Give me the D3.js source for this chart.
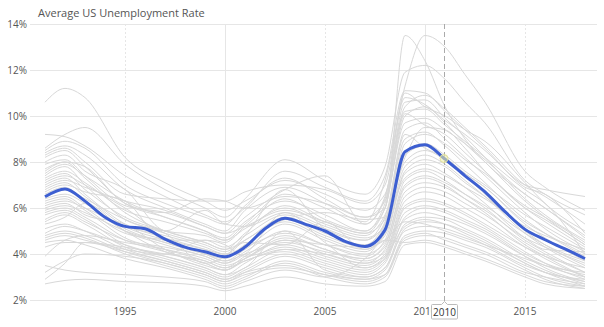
<!DOCTYPE html>
<html>
<head>
<meta charset="utf-8">
<script src="https://cdn.jsdelivr.net/npm/d3@7"></script>
<style>
  html, body { margin: 0; padding: 0; background: #fff; }
  svg { display: block; }
  text { font-family: "Open Sans", "Noto Sans", sans-serif; }
</style>
</head>
<body>
<svg id="chart" width="604" height="327"></svg>
<script>
// Sample years for the metro-area series
const metroYears = [1991, 1992, 1993, 1995, 1997, 1999, 2000, 2001, 2003, 2005,
                    2007, 2008, 2009, 2010, 2011, 2012, 2013, 2015, 2016, 2018];

// Unemployment rate (%) of each metro area at those years
const metroRates = [
  [10.6, 11.2, 10.8, 8.2, 7.1, 6.3, 5.9, 6.3, 7.2, 6.6, 5.9, 6.6, 10.4, 10.9, 10.3, 9.5, 8.7, 7.0, 6.5, 5.3],
  [9.2, 9.1, 8.7, 7.4, 6.5, 5.7, 5.4, 6.0, 7.6, 6.9, 6.3, 7.4, 11.1, 11.0, 10.2, 9.4, 8.6, 6.9, 6.6, 4.9],
  [8.6, 9.2, 9.5, 7.9, 6.8, 6.0, 5.6, 6.4, 8.1, 7.2, 6.6, 7.8, 11.9, 12.2, 11.6, 10.6, 9.7, 7.2, 6.6, 5.7],
  [8.5, 8.9, 8.6, 7.0, 6.2, 5.6, 5.3, 6.1, 7.3, 6.4, 5.6, 6.0, 13.5, 12.4, 10.4, 9.0, 8.0, 6.6, 6.0, 4.8],
  [8.4, 8.7, 8.3, 6.8, 6.0, 5.3, 5.0, 5.9, 6.9, 6.2, 5.4, 7.2, 11.3, 13.5, 13.0, 11.8, 10.6, 7.6, 6.9, 5.9],
  [8.3, 8.6, 8.0, 6.6, 6.4, 6.3, 6.3, 6.7, 7.0, 6.8, 6.2, 7.0, 10.8, 10.5, 9.8, 9.2, 8.5, 7.0, 6.8, 6.5],
  [8.2, 8.5, 7.8, 6.2, 5.6, 5.0, 4.6, 5.3, 6.6, 6.0, 5.3, 6.4, 11.0, 10.4, 10.0, 9.4, 8.9, 7.1, 6.2, 5.0],
  [8.0, 8.3, 7.6, 6.8, 5.0, 4.8, 4.5, 5.2, 6.4, 5.5, 5.0, 6.2, 10.6, 10.7, 9.9, 9.1, 8.2, 6.4, 5.7, 4.6],
  [7.9, 8.1, 7.4, 6.1, 5.8, 5.2, 4.9, 5.6, 6.8, 7.4, 5.3, 6.5, 10.2, 10.3, 9.6, 8.9, 8.2, 6.8, 6.2, 4.0],
  [7.7, 8.0, 7.3, 5.8, 5.0, 4.5, 4.2, 4.9, 6.1, 5.4, 4.9, 6.0, 10.0, 10.4, 9.7, 8.8, 8.0, 6.3, 5.6, 4.4],
  [7.6, 8.0, 7.8, 6.2, 5.8, 6.4, 6.3, 6.0, 6.5, 6.2, 5.6, 6.3, 9.7, 9.9, 9.4, 8.8, 8.1, 6.6, 6.0, 4.7],
  [7.5, 7.9, 7.4, 6.3, 5.6, 5.0, 4.7, 5.4, 6.3, 5.7, 5.0, 6.0, 10.1, 9.6, 9.2, 8.4, 7.6, 6.0, 5.4, 4.3],
  [7.4, 7.8, 7.0, 5.5, 4.9, 3.6, 3.9, 4.8, 6.8, 5.1, 4.6, 5.6, 9.4, 9.7, 9.0, 8.2, 7.4, 5.8, 5.1, 4.1],
  [7.3, 7.6, 7.1, 5.9, 5.4, 4.9, 4.6, 5.1, 6.0, 5.3, 4.8, 5.7, 8.2, 9.5, 9.4, 8.6, 7.6, 6.1, 5.6, 4.5],
  [7.2, 7.5, 6.8, 5.6, 5.0, 4.5, 4.2, 4.6, 5.6, 4.9, 4.4, 5.4, 9.0, 9.3, 8.7, 7.9, 7.1, 5.5, 4.9, 3.9],
  [7.1, 7.4, 7.0, 6.0, 5.0, 5.9, 5.3, 5.2, 5.8, 5.2, 4.7, 5.2, 8.8, 9.2, 8.8, 8.1, 7.5, 6.0, 5.5, 4.4],
  [7.0, 7.3, 6.6, 5.3, 4.7, 4.2, 3.9, 4.4, 5.5, 4.8, 4.3, 5.3, 9.2, 8.6, 8.2, 7.5, 6.9, 5.3, 4.7, 3.7],
  [6.9, 7.2, 6.9, 6.3, 5.9, 5.2, 4.9, 5.2, 5.9, 5.4, 4.9, 5.5, 8.4, 8.8, 8.3, 7.6, 7.0, 5.7, 5.2, 4.2],
  [6.8, 7.1, 6.5, 5.2, 4.6, 4.0, 3.7, 4.2, 5.3, 4.6, 4.1, 5.0, 8.3, 8.7, 8.2, 7.4, 6.6, 5.0, 4.4, 3.5],
  [6.7, 7.0, 6.7, 6.3, 4.6, 4.6, 4.3, 4.8, 5.7, 5.1, 4.6, 5.3, 8.0, 8.5, 8.1, 7.5, 6.9, 5.4, 4.9, 4.0],
  [6.6, 6.9, 6.3, 5.1, 4.5, 4.0, 3.8, 4.4, 5.4, 4.7, 4.2, 4.9, 7.8, 8.3, 7.9, 7.2, 6.5, 4.9, 4.3, 3.4],
  [6.5, 6.8, 6.4, 5.5, 4.9, 4.4, 4.1, 4.5, 4.4, 5.4, 4.2, 4.8, 7.6, 8.1, 7.8, 7.1, 6.5, 5.1, 4.6, 3.8],
  [6.4, 6.6, 6.2, 5.0, 4.4, 3.9, 3.6, 4.1, 5.0, 4.4, 3.9, 4.6, 7.5, 7.9, 7.5, 6.9, 6.2, 4.7, 4.2, 4.1],
  [6.3, 6.5, 6.0, 4.9, 4.6, 4.2, 4.0, 4.6, 5.5, 5.8, 5.5, 5.6, 7.3, 7.7, 7.4, 6.9, 6.4, 5.2, 4.8, 4.2],
  [6.2, 6.4, 5.9, 4.7, 4.2, 3.7, 3.4, 3.9, 4.8, 4.2, 3.8, 4.4, 7.2, 7.6, 7.2, 6.6, 6.0, 4.6, 4.1, 3.2],
  [6.1, 6.3, 6.0, 5.2, 4.8, 4.3, 4.0, 4.3, 4.9, 4.4, 4.0, 4.5, 7.0, 7.4, 7.1, 6.6, 6.1, 4.9, 4.4, 3.7],
  [6.0, 6.2, 5.7, 5.3, 4.2, 3.5, 3.3, 3.8, 4.6, 4.0, 3.6, 4.2, 6.9, 7.3, 7.0, 6.4, 5.8, 4.4, 3.9, 3.0],
  [5.9, 6.1, 5.8, 5.0, 4.5, 4.0, 3.7, 4.0, 4.5, 4.1, 3.8, 4.3, 6.7, 7.1, 6.9, 6.4, 5.9, 4.7, 4.3, 3.6],
  [5.8, 6.0, 5.6, 4.6, 4.1, 3.6, 3.3, 3.8, 4.7, 4.2, 3.7, 4.1, 6.5, 6.9, 6.7, 6.2, 5.7, 4.5, 4.0, 3.2],
  [5.7, 5.9, 5.5, 4.4, 3.9, 3.4, 3.1, 3.6, 4.4, 3.9, 3.5, 4.0, 6.3, 6.7, 6.5, 6.0, 5.5, 4.3, 3.8, 3.0],
  [5.5, 5.8, 5.4, 4.6, 4.3, 3.9, 3.6, 4.0, 5.8, 4.5, 3.4, 3.9, 6.1, 6.4, 6.2, 5.8, 5.3, 4.3, 3.9, 3.4],
  [5.4, 5.7, 5.3, 4.3, 3.8, 3.3, 3.0, 3.4, 4.2, 3.7, 3.3, 3.8, 6.0, 6.3, 6.1, 5.7, 5.2, 4.1, 3.6, 2.9],
  [5.3, 5.6, 6.2, 5.0, 4.1, 3.6, 3.3, 3.7, 4.1, 3.6, 3.2, 3.7, 5.8, 6.1, 5.9, 5.5, 5.1, 4.0, 3.6, 3.1],
  [5.1, 5.3, 5.0, 4.2, 3.7, 3.2, 2.9, 3.3, 4.0, 3.5, 3.1, 3.6, 5.6, 6.0, 5.8, 5.4, 5.0, 3.9, 3.4, 2.8],
  [4.9, 5.2, 5.0, 4.4, 4.0, 4.6, 4.4, 3.9, 4.3, 3.8, 3.4, 3.8, 5.5, 5.8, 5.6, 5.3, 4.9, 3.9, 3.5, 3.0],
  [4.8, 5.0, 4.8, 4.1, 3.6, 3.1, 2.8, 3.2, 3.9, 3.4, 3.0, 3.4, 5.3, 5.6, 5.5, 5.1, 4.7, 3.7, 3.3, 2.7],
  [4.7, 4.9, 4.7, 4.0, 3.5, 3.0, 2.7, 3.0, 3.7, 3.2, 2.9, 3.3, 5.1, 5.4, 5.3, 5.0, 4.6, 3.6, 3.2, 2.6],
  [4.6, 4.8, 4.6, 4.2, 3.9, 3.4, 3.1, 3.4, 5.0, 3.3, 3.0, 3.4, 5.0, 5.2, 5.1, 4.8, 4.4, 3.5, 3.2, 2.8],
  [4.5, 4.6, 4.4, 3.8, 3.4, 2.9, 2.6, 2.9, 3.6, 3.1, 2.8, 3.1, 4.8, 5.0, 4.9, 4.6, 4.3, 3.4, 3.0, 2.6],
  [4.3, 4.5, 4.5, 4.1, 3.7, 3.2, 2.9, 3.2, 3.5, 3.0, 2.7, 3.0, 4.6, 4.8, 4.7, 4.4, 4.1, 3.3, 2.9, 2.5],
  [3.9, 4.6, 4.8, 4.5, 4.2, 3.8, 3.5, 3.8, 4.6, 4.4, 4.3, 4.6, 5.4, 5.3, 5.0, 4.7, 4.4, 3.8, 3.5, 3.2],
  [3.5, 3.3, 3.2, 3.1, 3.0, 2.8, 2.5, 2.8, 3.3, 3.0, 3.8, 4.6, 4.5, 4.6, 4.4, 4.1, 3.8, 3.1, 2.8, 2.6],
  [3.2, 3.7, 4.0, 3.9, 3.6, 3.1, 2.8, 3.1, 3.4, 3.1, 2.9, 3.1, 4.7, 4.9, 4.6, 4.3, 4.0, 3.2, 3.0, 2.7],
  [2.9, 3.6, 4.5, 4.3, 4.0, 3.7, 3.4, 3.7, 4.2, 4.0, 3.6, 3.9, 5.2, 5.5, 5.3, 4.9, 4.5, 3.6, 3.2, 2.9],
  [2.7, 2.85, 2.9, 2.8, 2.75, 2.6, 2.4, 2.6, 3.0, 2.7, 2.6, 2.8, 4.4, 4.5, 4.3, 4.0, 3.7, 3.0, 2.7, 2.5]
];

// National average rate (%) by year
const avgYears = d3.range(1991, 2019);
const avgRates = [6.49, 6.83, 6.3, 5.6, 5.2, 5.1, 4.65, 4.3, 4.1, 3.88,
                  4.3, 5.1, 5.55, 5.3, 5.0, 4.55, 4.33, 5.05, 8.45, 8.75,
                  8.12, 7.4, 6.7, 5.84, 5.07, 4.62, 4.22, 3.8];

// Axis ticks
const yTicks = [2, 4, 6, 8, 10, 12, 14];
const xTicks = [1995, 2000, 2005, 2010, 2015];
const solidXTicks = [2000, 2010];

// Year under the hover cursor
const hoverYear = 2010.95;

const chartTitle = "Average US Unemployment Rate";

const svg = d3.select("#chart");

const x = d3.scaleLinear().domain([1991, 2018]).range([45, 585]);
const y = d3.scaleLinear().domain([2, 14]).range([300, 24]);
const gridLeft = 30, gridRight = 597;

// Horizontal grid + y labels
const yAxis = svg.append("g").attr("class", "y-axis");
yAxis.selectAll("line").data(yTicks).join("line")
  .attr("x1", gridLeft).attr("x2", gridRight)
  .attr("y1", d => Math.round(y(d)) + 0.5).attr("y2", d => Math.round(y(d)) + 0.5)
  .attr("stroke", "#e6e6e6").attr("stroke-width", 1);
yAxis.selectAll("text").data(yTicks).join("text")
  .attr("x", 27).attr("y", d => y(d)).attr("dy", "0.35em")
  .attr("text-anchor", "end")
  .attr("font-size", 10).attr("fill", "#555")
  .text(d => d + "%");

// Vertical grid + x labels
const xAxis = svg.append("g").attr("class", "x-axis");
xAxis.selectAll("line").data(xTicks).join("line")
  .attr("x1", d => Math.round(x(d)) + 0.5).attr("x2", d => Math.round(x(d)) + 0.5)
  .attr("y1", y(14)).attr("y2", y(2))
  .attr("stroke", "#e6e6e6").attr("stroke-width", 1)
  .attr("stroke-dasharray", d => solidXTicks.includes(d) ? null : "2,2");
xAxis.selectAll("text").data(xTicks).join("text")
  .attr("x", d => x(d)).attr("y", 315)
  .attr("text-anchor", "middle")
  .attr("font-size", 10).attr("fill", "#555")
  .text(d => d);

// Title
svg.append("text")
  .attr("x", 38).attr("y", 17)
  .attr("font-size", 11).attr("fill", "#555")
  .text(chartTitle);

// Metro-area lines
const metroLine = d3.line()
  .x((d, i) => x(metroYears[i]))
  .y(d => y(d))
  .curve(d3.curveMonotoneX);

svg.append("g").selectAll("path").data(metroRates).join("path")
  .attr("d", metroLine)
  .attr("fill", "none")
  .attr("stroke", "#d8d8d8")
  .attr("stroke-width", 1);

// Average line
const avgLine = d3.line()
  .x((d, i) => x(avgYears[i]))
  .y(d => y(d))
  .curve(d3.curveMonotoneX);

svg.append("path")
  .datum(avgRates)
  .attr("d", avgLine)
  .attr("fill", "none")
  .attr("stroke", "#3d5fd1")
  .attr("stroke-width", 3)
  .attr("stroke-linejoin", "round");

// Hover cursor
const hx = Math.round(x(hoverYear)) + 0.5;
svg.append("line")
  .attr("x1", hx).attr("x2", hx)
  .attr("y1", y(14)).attr("y2", 303)
  .attr("stroke", "#aaa").attr("stroke-width", 1)
  .attr("stroke-dasharray", "5,3");

// Highlight on the average line at the cursor
const i0 = d3.bisectRight(avgYears, hoverYear) - 1;
const t = (hoverYear - avgYears[i0]) / (avgYears[i0 + 1] - avgYears[i0]);
const hv = avgRates[i0] + t * (avgRates[i0 + 1] - avgRates[i0]);
svg.append("circle")
  .attr("cx", x(hoverYear)).attr("cy", y(hv)).attr("r", 4)
  .attr("fill", "rgba(240,240,170,0.55)")
  .attr("stroke", "rgba(225,225,150,0.9)").attr("stroke-width", 1);

// Cursor year label
const label = svg.append("g").attr("transform", `translate(${hx},304)`);
label.append("path")
  .attr("d", "M-12,0.5 H-3 L0,-2.5 L3,0.5 H12 Q13,0.5 13,1.5 V14 Q13,15 12,15 H-12 Q-13,15 -13,14 V1.5 Q-13,0.5 -12,0.5 Z")
  .attr("fill", "#fff").attr("stroke", "#bbb").attr("stroke-width", 1);
label.append("text")
  .attr("x", 0).attr("y", 11.5)
  .attr("text-anchor", "middle")
  .attr("font-size", 10).attr("fill", "#333")
  .text(Math.floor(hoverYear));
</script>
</body>
</html>
